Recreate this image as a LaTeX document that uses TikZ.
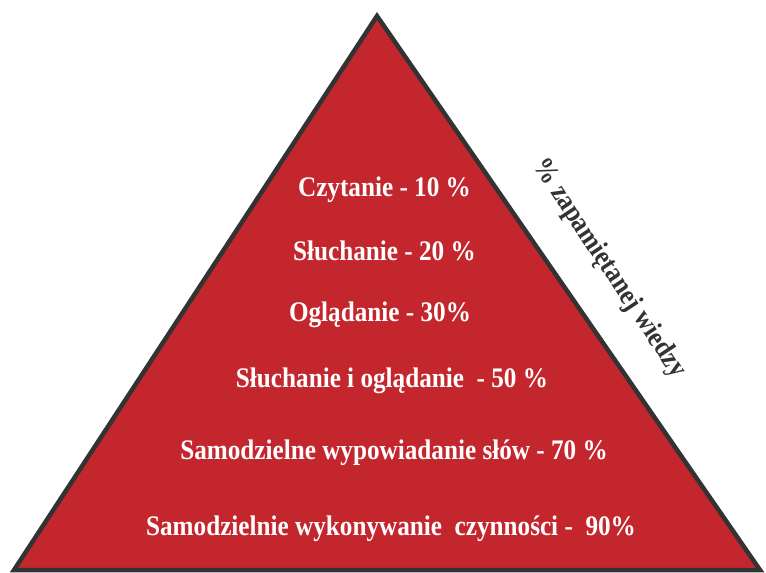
\documentclass[tikz,border=0pt]{standalone}
\usepackage{fontspec}
\setmainfont{Liberation Serif}
\usepackage{xcolor}
\definecolor{pyrred}{HTML}{C4262E}
\definecolor{edgegray}{HTML}{333333}

\begin{document}
\begin{tikzpicture}[
  x=1pt, y=-1pt,
  level/.style={text=white, font=\fontsize{28.3}{32}\selectfont\bfseries, inner sep=0pt, anchor=base, xscale=0.89},
  side/.style={text=edgegray, font=\fontsize{28.3}{32}\selectfont\bfseries, inner sep=0pt, rotate=-56.5, xscale=0.89}
]
\useasboundingbox (0,0) rectangle (766,573);
\coordinate (apex) at (377,16);
\coordinate (left) at (14,570);
\coordinate (right) at (760,570);
\draw[fill=pyrred, draw=edgegray, line width=4.5pt, line join=miter] (apex) -- (right) -- (left) -- cycle;

\node[level] (l1) at (384.5,196) {Czytanie - 10 \%};
\node[level] (l2) at (384.5,260) {Słuchanie - 20 \%};
\node[level] (l3) at (380,321) {Oglądanie - 30\%};
\node[level] (l4) at (392,387) {Słuchanie i oglądanie~ - 50 \%};
\node[level] (l5) at (394,459) {Samodzielne wypowiadanie słów - 70 \%};
\node[level] (l6) at (391,535) {Samodzielnie wykonywanie~ czynności -~ 90\%};

\node[side] (knowledge) at (609,269) {\% zapamiętanej wiedzy};
\end{tikzpicture}
\end{document}
